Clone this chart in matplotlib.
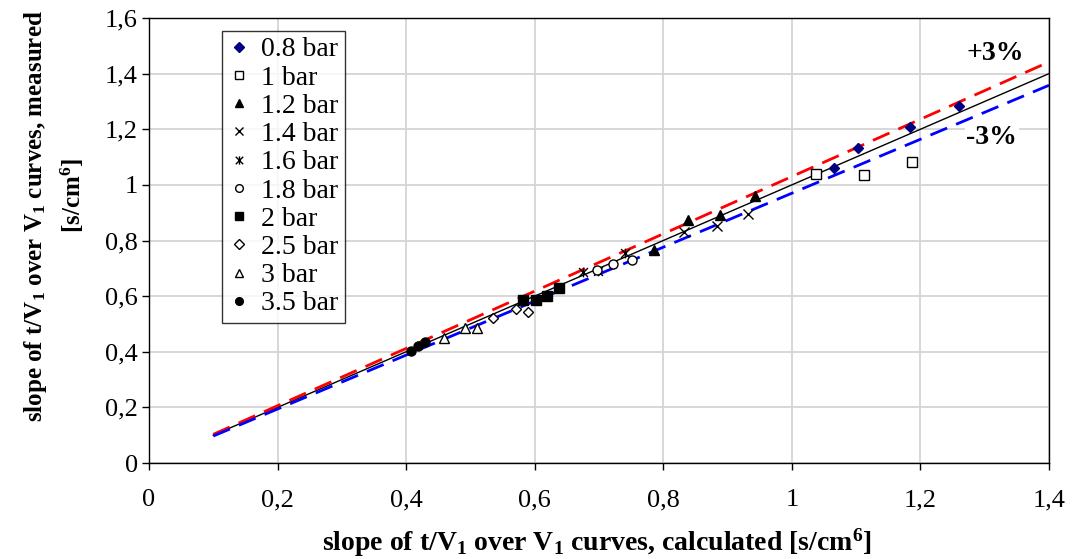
import matplotlib
matplotlib.use("Agg")
import matplotlib.pyplot as plt
from matplotlib.ticker import FuncFormatter
from matplotlib.path import Path
import numpy as np

plt.rcParams['font.family'] = ['Liberation Serif', 'DejaVu Serif']
plt.rcParams['mathtext.fontset'] = 'custom'
plt.rcParams['mathtext.rm'] = 'Liberation Serif'
plt.rcParams['mathtext.bf'] = 'Liberation Serif:bold'
plt.rcParams['mathtext.it'] = 'Liberation Serif:italic'

# ---- data (calculated x, measured y) ----
series_labels = ["0.8 bar", "1 bar", "1.2 bar", "1.4 bar", "1.6 bar",
                 "1.8 bar", "2 bar", "2.5 bar", "3 bar", "3.5 bar"]
x_08 = [1.066, 1.103, 1.184, 1.260]
y_08 = [1.061, 1.133, 1.208, 1.284]
x_10 = [1.038, 1.112, 1.187]
y_10 = [1.039, 1.036, 1.082]
x_12 = [0.786, 0.838, 0.888, 0.943]
y_12 = [0.766, 0.874, 0.892, 0.960]
x_14 = [0.832, 0.884, 0.932]
y_14 = [0.831, 0.852, 0.895]
x_16 = [0.675, 0.698, 0.740]
y_16 = [0.686, 0.690, 0.755]
x_18 = [0.697, 0.722, 0.751]
y_18 = [0.694, 0.715, 0.730]
x_20 = [0.582, 0.602, 0.619, 0.638]
y_20 = [0.586, 0.586, 0.600, 0.629]
x_25 = [0.535, 0.571, 0.590]
y_25 = [0.521, 0.554, 0.543]
x_30 = [0.459, 0.492, 0.510]
y_30 = [0.449, 0.485, 0.485]
x_35 = [0.408, 0.418, 0.430]
y_35 = [0.403, 0.421, 0.435]

line_x = [0.1, 1.4]
tol_plus = 1.03
tol_minus = 0.97

x_ticks = [0, 0.2, 0.4, 0.6, 0.8, 1.0, 1.2, 1.4]
y_ticks = [0, 0.2, 0.4, 0.6, 0.8, 1.0, 1.2, 1.4, 1.6]

W, H = 1072, 559
fig = plt.figure(figsize=(W/100, H/100), dpi=100)
ax = fig.add_axes([149/W, 1-463/H, 900/W, 445/H])

ax.set_xlim(0, 1.4)
ax.set_ylim(0, 1.6)
ax.set_xticks(x_ticks)
ax.set_yticks(y_ticks)

def fmt(v, pos):
    s = ('%.1f' % v)
    if s.endswith('.0'):
        s = s[:-2]
    return s.replace('.', ',')

ax.xaxis.set_major_formatter(FuncFormatter(fmt))
ax.yaxis.set_major_formatter(FuncFormatter(fmt))
ax.grid(True, color='#d4d4d4', linewidth=1.3)
ax.set_axisbelow(True)
ax.tick_params(direction='out', length=5, width=1, colors='black')
ax.tick_params(axis='y', labelsize=19, pad=3)
ax.tick_params(axis='x', labelsize=19, pad=14)
for sp in ax.spines.values():
    sp.set_linewidth(1.0)
    sp.set_color('black')

lx = np.array(line_x)
ax.plot(lx, lx, color='black', lw=1.0, zorder=2)
ax.plot(lx, lx * tol_plus, color='#ff0000', lw=2.0, dashes=(6.5, 3.5), zorder=2)
ax.plot(lx, lx * tol_minus, color='#0000ff', lw=2.0, dashes=(6.5, 3.5), zorder=2)

star = Path([(-1, -1), (1, 1), (-1, 1), (1, -1), (0, -1.1), (0, 1.1)],
            [Path.MOVETO, Path.LINETO, Path.MOVETO, Path.LINETO, Path.MOVETO, Path.LINETO])

ms = 6.5
common = dict(linestyle='none', zorder=3)
ax.plot(x_08, y_08, marker='D', ms=5.5, mfc='#000080', mec='#000080', label=series_labels[0], **common)
ax.plot(x_10, y_10, marker='s', ms=ms, mfc='white', mec='black', mew=1, label=series_labels[1], **common)
ax.plot(x_12, y_12, marker='^', ms=7.5, mfc='black', mec='black', label=series_labels[2], **common)
ax.plot(x_14, y_14, marker='x', ms=7, mec='black', mew=1, label=series_labels[3], **common)
ax.plot(x_16, y_16, marker=star, ms=7, mec='black', mew=1, label=series_labels[4], **common)
ax.plot(x_18, y_18, marker='o', ms=ms, mfc='white', mec='black', mew=1, label=series_labels[5], **common)
ax.plot(x_20, y_20, marker='s', ms=ms, mfc='black', mec='black', label=series_labels[6], **common)
ax.plot(x_25, y_25, marker='D', ms=5.5, mfc='white', mec='black', mew=1, label=series_labels[7], **common)
ax.plot(x_30, y_30, marker='^', ms=7.5, mfc='white', mec='black', mew=1, label=series_labels[8], **common)
ax.plot(x_35, y_35, marker='o', ms=ms, mfc='black', mec='black', label=series_labels[9], **common)

leg = ax.legend(loc='upper left', bbox_to_anchor=(0.081, 0.971), fontsize=20,
                frameon=True, fancybox=False, shadow=False, borderpad=0.22,
                labelspacing=0.1, handlelength=0.8, handletextpad=0.4,
                borderaxespad=0, markerscale=0.85)
leg.get_frame().set_edgecolor('black')
leg.get_frame().set_linewidth(1.0)

ax.text(1.316, 1.474, '+3%', fontsize=20, fontweight='bold', ha='center', va='center',
        bbox=dict(facecolor='white', edgecolor='none', pad=1), zorder=4)
ax.text(1.311, 1.172, '-3%', fontsize=20, fontweight='bold', ha='center', va='center',
        bbox=dict(facecolor='white', edgecolor='none', pad=1), zorder=4)

fig.text(597/W, 1-543/H,
         r'slope of t/V$_\mathbf{1}$ over V$_\mathbf{1}$ curves, calculated [s/cm$^\mathbf{6}$]',
         fontsize=20, fontweight='bold', ha='center', va='center')
fig.text(36/W, 1-216/H,
         r'slope of t/V$_\mathbf{1}$ over V$_\mathbf{1}$ curves, measured',
         fontsize=18, fontweight='bold', ha='center', va='center', rotation=90)
fig.text(72/W, 1-196/H, r'[s/cm$^\mathbf{6}$]',
         fontsize=18, fontweight='bold', ha='center', va='center', rotation=90)

fig.savefig('out.png', dpi=100)
